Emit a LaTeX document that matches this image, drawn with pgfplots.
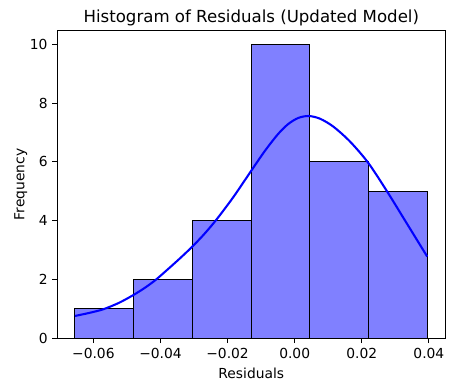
\documentclass[border=0pt]{standalone}
\usepackage{pgfplots}
\pgfplotsset{compat=1.18}
\usepackage{fontspec}
\setmainfont{DejaVu Sans}
\definecolor{barfill}{RGB}{128,128,255}
\begin{document}
\begin{tikzpicture}
\useasboundingbox (-41.4pt,-38.1pt) rectangle (286.7pt,244.5pt);
\begin{axis}[
  at={(0,0)}, anchor=south west,
  scale only axis,
  width=280.4pt, height=222.3pt,
  xmin=-0.07076, xmax=0.04489,
  ymin=0, ymax=10.46,
  xtick={-0.06,-0.04,-0.02,0,0.02,0.04},
  xticklabels={−0.06,−0.04,−0.02,0.00,0.02,0.04},
  ytick={0,2,4,6,8,10},
  /pgf/number format/assume math mode=true,
  tick align=outside,
  major tick length=3.5pt,
  tick style={black, line width=0.8pt},
  axis line style={line width=0.8pt},
  xtick pos=bottom, ytick pos=left,
  tick label style={font=\fontsize{10}{12}\selectfont},
  label style={font=\fontsize{10}{12}\selectfont},
  xlabel={Residuals},
  ylabel={Frequency},
  ylabel style={yshift=-5pt},
  title={Histogram of Residuals (Updated Model)},
  title style={font=\fontsize{12}{14}\selectfont, yshift=-6pt},
  scaled x ticks=false,
  clip=false,
]
\addplot[ybar interval, fill=barfill, draw=black, line width=0.8pt] coordinates {
  (-0.0655,1) (-0.0480,2) (-0.0305,4) (-0.0130,10) (0.0045,6) (0.0220,5) (0.0395,5)
};
\addplot[blue, line width=1.5pt, smooth] coordinates {
  (-0.0655,0.76) (-0.0610,0.87) (-0.0570,0.99) (-0.0525,1.20) (-0.0481,1.47)
  (-0.0445,1.73) (-0.0413,2.00) (-0.0372,2.41) (-0.0340,2.74) (-0.0305,3.12)
  (-0.0270,3.54) (-0.0233,4.04) (-0.0183,4.80) (-0.0130,5.69) (-0.0089,6.37)
  (-0.0050,6.94) (-0.0020,7.28) (0.0010,7.49) (0.0041,7.56) (0.0075,7.47)
  (0.0115,7.20) (0.0165,6.69) (0.0219,5.97) (0.0274,5.02) (0.0334,3.91)
  (0.0395,2.78)
};
\end{axis}
\end{tikzpicture}
\end{document}
